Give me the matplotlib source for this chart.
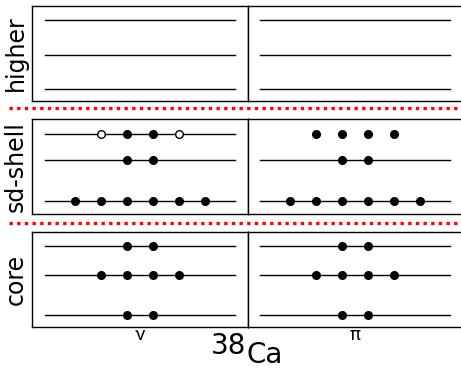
import matplotlib
matplotlib.use("Agg")
import matplotlib.pyplot as plt
from matplotlib.lines import Line2D

# shell rows, top to bottom
rows = ["higher", "sd-shell", "core"]
panels = ["ν", "π"]

# level heights inside each row (bottom to top)
levelY = {
    "higher": [0.12, 0.48, 0.85],
    "sd-shell": [0.14, 0.57, 0.85],
    "core": [0.12, 0.54, 0.85],
}
# capacity of each level (bottom to top)
capacity = {
    "higher": [0, 0, 0],
    "sd-shell": [6, 2, 4],
    "core": [2, 4, 2],
}
# particles sitting in each level, per panel
occupied = {
    "ν": {"higher": [0, 0, 0], "sd-shell": [6, 2, 2], "core": [2, 4, 2]},
    "π": {"higher": [0, 0, 0], "sd-shell": [6, 2, 4], "core": [2, 4, 2]},
}
# levels whose line is not drawn in the reference
hiddenLines = [("π", "sd-shell", 2)]

# slot order, filled from the middle outwards
slotOrder = [3, 4, 2, 5, 1, 6]

W, H = 461, 369
fig = plt.figure(figsize=(W / 100, H / 100), dpi=100)

rowBox = {"higher": (6.3, 100.7), "sd-shell": (119.3, 214.0), "core": (231.7, 326.7)}
colLeft = {"ν": 32.3, "π": 247.7}
colWidth = 215.4

for row in rows:
    top, bottom = rowBox[row]
    for panel in panels:
        ax = fig.add_axes([colLeft[panel] / W, 1 - bottom / H,
                           colWidth / W, (bottom - top) / H])
        ax.set_xlim(-0.64, 7.64)
        ax.set_ylim(0, 1)
        ax.set_xticks([])
        ax.set_yticks([])
        for s in ax.spines.values():
            s.set_linewidth(1.0)
            s.set_color("black")
        for i, y in enumerate(levelY[row]):
            if (panel, row, i) not in hiddenLines:
                ax.plot([-0.15, 7.15], [y, y], color="black", lw=1.0, zorder=1)
            cap = capacity[row][i]
            n = occupied[panel][row][i]
            slots = slotOrder[:cap]
            filled = slots[:n]
            holes = slots[n:]
            if filled:
                ax.plot(filled, [y] * len(filled), "o", color="black",
                        markersize=5.5, zorder=3)
            if holes:
                ax.plot(holes, [y] * len(holes), "o", markerfacecolor="white",
                        markeredgecolor="black", markeredgewidth=1.0,
                        markersize=5.5, zorder=3)
        if panel == "ν":
            ax.set_ylabel(row, fontsize=17, labelpad=3)

# red dotted separators between the rows
for yPix in [108.3, 223.0]:
    fig.add_artist(Line2D([9 / W, 1.02], [1 - yPix / H] * 2, color="red",
                          lw=2.4, linestyle=(0, (1, 1.3))))

# particle labels and nucleus name
for panel in panels:
    fig.text((colLeft[panel] + colWidth / 2) / W, 1 - 340 / H, panel,
             fontsize=13, family="Inter", ha="center", va="baseline")
fig.text(211 / W, 1 - 353.5 / H, "38", fontsize=20, ha="left", va="baseline")
fig.text(246 / W, 1 - 363 / H, "Ca", fontsize=20, ha="left", va="baseline")

fig.savefig("out.png", dpi=100)
